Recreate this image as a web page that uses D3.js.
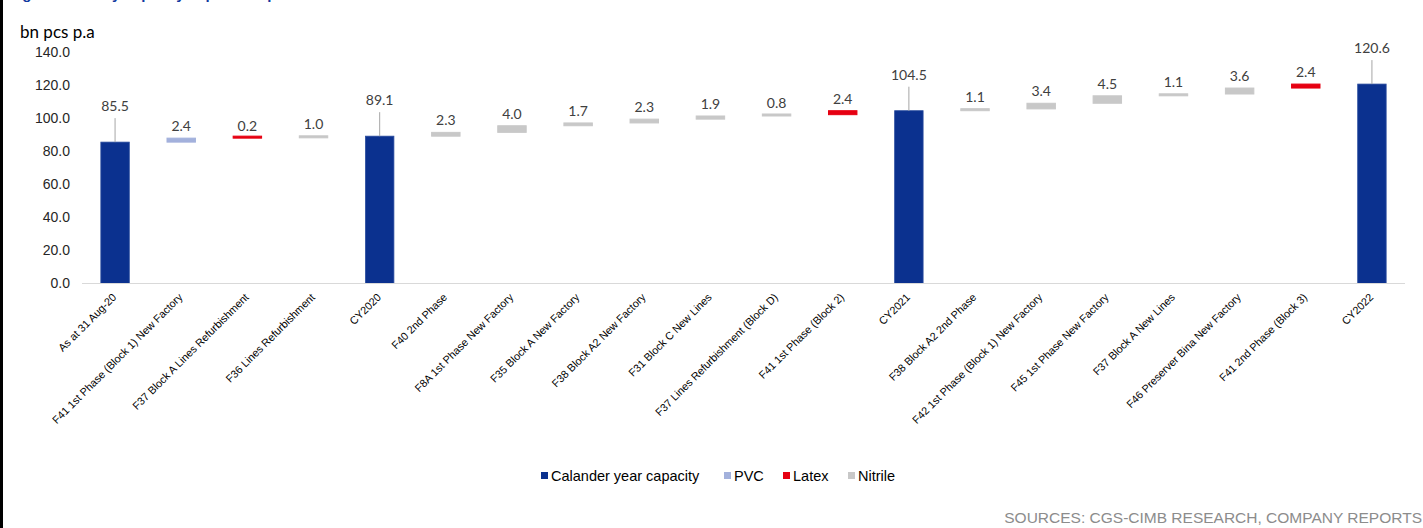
<!DOCTYPE html>
<html>
<head>
<meta charset="utf-8">
<script src="https://cdn.jsdelivr.net/npm/d3@7"></script>
<style>
  html, body { margin: 0; padding: 0; background: #fff; }
  svg { display: block; }
</style>
</head>
<body>
<script>
// chart data
const categories = [
  'As at 31 Aug-20',
  'F41 1st Phase (Block 1) New Factory',
  'F37 Block A Lines Refurbishment',
  'F36 Lines Refurbishment',
  'CY2020',
  'F40 2nd Phase',
  'F8A 1st Phase New Factory',
  'F35 Block A New Factory',
  'F38 Block A2 New Factory',
  'F31 Block C New Lines',
  'F37 Lines Refurbishment (Block D)',
  'F41 1st Phase (Block 2)',
  'CY2021',
  'F38 Block A2 2nd Phase',
  'F42 1st Phase (Block 1) New Factory',
  'F45 1st Phase New Factory',
  'F37 Block A New Lines',
  'F46 Preserver Bina New Factory',
  'F41 2nd Phase (Block 3)',
  'CY2022'
];
const values = [85.5, 2.4, 0.2, 1.0, 89.1, 2.3, 4.0, 1.7, 2.3, 1.9, 0.8, 2.4,
  104.5, 1.1, 3.4, 4.5, 1.1, 3.6, 2.4, 120.6];
const types = ['Calander year capacity', 'PVC', 'Latex', 'Nitrile', 'Calander year capacity',
  'Nitrile', 'Nitrile', 'Nitrile', 'Nitrile', 'Nitrile', 'Nitrile', 'Latex',
  'Calander year capacity', 'Nitrile', 'Nitrile', 'Nitrile', 'Nitrile', 'Nitrile', 'Latex',
  'Calander year capacity'];
const seriesNames = ['Calander year capacity', 'PVC', 'Latex', 'Nitrile'];
const yTicks = [0, 20, 40, 60, 80, 100, 120, 140];

const colors = {
  'Calander year capacity': '#0b318f',
  'PVC': '#a3b1dc',
  'Latex': '#e60012',
  'Nitrile': '#c8c8c8'
};

const W = 1423, H = 528;
const svg = d3.select('body').append('svg')
  .attr('width', W).attr('height', H);

svg.append('rect').attr('width', W).attr('height', H).attr('fill', '#fff');
// left border strip
svg.append('rect').attr('x', 0).attr('y', 0).attr('width', 3).attr('height', H).attr('fill', '#000');

// cropped title (only bottom edge visible, as in the source image)
svg.append('text')
  .attr('x', 9).attr('y', -1)
  .attr('font-family', 'Liberation Sans, Arial, sans-serif')
  .attr('font-weight', 'bold')
  .attr('font-size', 15)
  .attr('fill', '#1239a0')
  .text('Figure 9: Yearly capacity expansion plan');

// waterfall layout
let running = 0;
const bars = values.map((v, i) => {
  const t = types[i];
  let base, top;
  if (t === 'Calander year capacity') { base = 0; top = v; running = v; }
  else { base = running; top = running + v; running = top; }
  return { cat: categories[i], value: v, type: t, base, top };
});

const x = d3.scaleBand()
  .domain(categories)
  .range([82, 1405])
  .paddingInner(0.57)
  .paddingOuter(0.285);

const y = d3.scaleLinear().domain([0, 140]).range([283.5, 52]);

// y axis labels
const yAxis = svg.append('g')
  .attr('transform', 'translate(70,0)')
  .call(d3.axisLeft(y).tickValues(yTicks).tickSize(0).tickPadding(0).tickFormat(d3.format('.1f')));
yAxis.select('.domain').remove();
yAxis.selectAll('text')
  .attr('font-family', 'Liberation Sans, Arial, sans-serif')
  .attr('font-size', 14)
  .attr('fill', '#262626');

svg.append('text')
  .attr('x', 20).attr('y', 38)
  .attr('font-family', 'Lato, sans-serif')
  .attr('font-size', 17)
  .attr('fill', '#000')
  .text('bn pcs p.a');

// bars
svg.append('g').selectAll('rect')
  .data(bars)
  .join('rect')
  .attr('x', d => x(d.cat))
  .attr('width', x.bandwidth())
  .attr('y', d => {
    const h = Math.max(y(d.base) - y(d.top), 2);
    return y(d.base) - h;
  })
  .attr('height', d => Math.max(y(d.base) - y(d.top), 2))
  .attr('fill', d => colors[d.type])
  .attr('stroke', d => d.type === 'Calander year capacity' ? '#2a4c9e' : colors[d.type])
  .attr('stroke-width', d => d.type === 'Calander year capacity' ? 0.8 : 1);

// x axis line
svg.append('line')
  .attr('x1', 82).attr('x2', 1405)
  .attr('y1', 283.5).attr('y2', 283.5)
  .attr('stroke', '#d9d9d9').attr('stroke-width', 1);

// leader lines for totals
const totals = bars.filter(d => d.type === 'Calander year capacity');
svg.append('g').selectAll('line')
  .data(totals)
  .join('line')
  .attr('x1', d => x(d.cat) + x.bandwidth() / 2)
  .attr('x2', d => x(d.cat) + x.bandwidth() / 2)
  .attr('y1', d => y(d.top))
  .attr('y2', d => y(d.top) - 24)
  .attr('stroke', '#a6a6a6').attr('stroke-width', 1);

// value labels
svg.append('g').selectAll('text')
  .data(bars)
  .join('text')
  .attr('x', d => x(d.cat) + x.bandwidth() / 2)
  .attr('y', d => d.type === 'Calander year capacity' ? y(d.top) - 31 : y(d.top) - 7)
  .attr('text-anchor', 'middle')
  .attr('font-family', 'Lato, sans-serif')
  .attr('font-size', 14)
  .attr('fill', '#404040')
  .text(d => d.value.toFixed(1));

// category labels
svg.append('g').selectAll('text')
  .data(categories)
  .join('text')
  .attr('transform', d => `translate(${x(d) + x.bandwidth() / 2 + 2},298) rotate(-45)`)
  .attr('text-anchor', 'end')
  .attr('font-family', 'Liberation Sans, Arial, sans-serif')
  .attr('font-size', 10.8)
  .attr('fill', '#000')
  .text(d => d);

// legend
const legendX = [541, 724, 783, 848];
const legend = svg.append('g');
seriesNames.forEach((s, i) => {
  legend.append('rect')
    .attr('x', legendX[i]).attr('y', 472)
    .attr('width', 7).attr('height', 7)
    .attr('fill', colors[s]);
  legend.append('text')
    .attr('x', legendX[i] + 10).attr('y', 481)
    .attr('font-family', 'Liberation Sans, Arial, sans-serif')
    .attr('font-size', 14.5)
    .attr('fill', '#000')
    .text(s);
});

// source
svg.append('text')
  .attr('x', 1422).attr('y', 523)
  .attr('text-anchor', 'end')
  .attr('font-family', 'Liberation Sans, Arial, sans-serif')
  .attr('font-size', 15.5)
  .attr('fill', '#8c8c8c')
  .text('SOURCES: CGS-CIMB RESEARCH, COMPANY REPORTS');
</script>
</body>
</html>
